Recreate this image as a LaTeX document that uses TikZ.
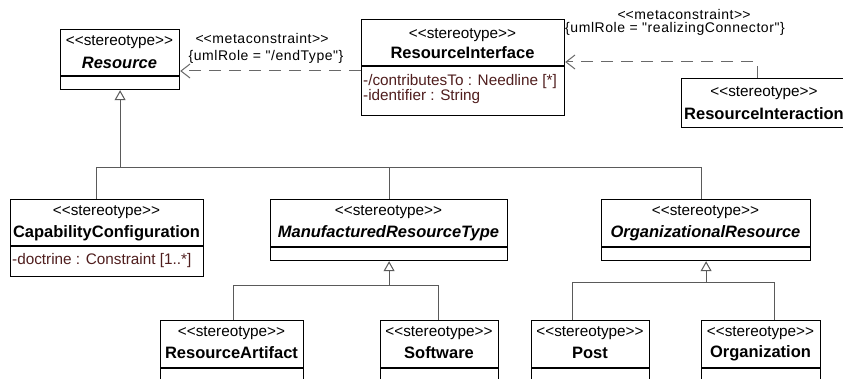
\documentclass[tikz,border=0pt]{standalone}
\usepackage{fontspec}
\setmainfont{Liberation Sans}
\newfontfamily\labfont{Liberation Sans}[LetterSpace=4]
\usetikzlibrary{arrows.meta}
\definecolor{attrcol}{RGB}{80,30,30}
\definecolor{gencol}{RGB}{90,90,90}
\definecolor{depcol}{RGB}{105,105,105}
\newcommand{\dlt}{<\kern0pt<}
\newcommand{\dgt}{>\kern0pt>}
\newcommand{\sterotxt}{\dlt stereotype\dgt}
\begin{document}
\begin{tikzpicture}[x=1pt,y=-1pt,
  box/.style={draw=black, line width=1.2pt, fill=white, anchor=north west, inner sep=0pt},
  divider/.style={draw=black, line width=1.2pt},
  stereo/.style={font=\fontsize{15.3}{16}\selectfont, inner sep=0pt},
  cname/.style={font=\fontsize{16.5}{17}\selectfont\bfseries, inner sep=0pt},
  aname/.style={font=\fontsize{16.5}{17}\selectfont\bfseries\itshape, inner sep=0pt},
  attr/.style={font=\fontsize{15.3}{16}\selectfont, text=attrcol, anchor=west, inner sep=0pt},
  lab/.style={font=\labfont\fontsize{14}{15}\selectfont, inner sep=0pt},
  gen/.style={draw=gencol, line width=1pt},
  genarrow/.style={gen, -{Triangle[open, length=10pt, width=11pt, fill=white]}},
  dep/.style={draw=depcol, line width=1pt, dash pattern=on 12pt off 8pt, -{Straight Barb[length=9pt, width=14pt]}},
]
\clip (0,0) rectangle (843,379);

% ---- boxes
\node[box, minimum width=119pt, minimum height=60pt] (res) at (60,29) {};
\node[box, minimum width=203pt, minimum height=96pt] (ri) at (361,19) {};
\node[box, minimum width=166pt, minimum height=49pt] (rint) at (681,78) {};
\node[box, minimum width=193pt, minimum height=77pt] (cc) at (10,199) {};
\node[box, minimum width=237pt, minimum height=61pt] (mrt) at (270,199) {};
\node[box, minimum width=209pt, minimum height=61pt] (org) at (601,199) {};
\node[box, minimum width=143pt, minimum height=80pt] (ra) at (160,320) {};
\node[box, minimum width=118pt, minimum height=80pt] (sw) at (380,320) {};
\node[box, minimum width=118pt, minimum height=80pt] (post) at (531,320) {};
\node[box, minimum width=119pt, minimum height=80pt] (orgn) at (701,320) {};

% ---- compartment dividers
\draw[divider] (res.west |- 0,76) -- (res.east |- 0,76);
\draw[divider] (ri.west |- 0,66) -- (ri.east |- 0,66);
\draw[divider] (cc.west |- 0,246) -- (cc.east |- 0,246);
\draw[divider] (mrt.west |- 0,247) -- (mrt.east |- 0,247);
\draw[divider] (org.west |- 0,247) -- (org.east |- 0,247);
\draw[divider] (ra.west |- 0,368) -- (ra.east |- 0,368);
\draw[divider] (sw.west |- 0,368) -- (sw.east |- 0,368);
\draw[divider] (post.west |- 0,368) -- (post.east |- 0,368);
\draw[divider] (orgn.west |- 0,368) -- (orgn.east |- 0,368);

% ---- texts
\node[stereo] (resS) at (119.5,42) {\sterotxt};
\node[aname] (resN) at (119.5,63) {Resource};

\node[stereo] (riS) at (462.5,35) {\sterotxt};
\node[cname] (riN) at (462.5,53) {ResourceInterface};
\node[attr] (riA1) at (363,82) {-/contributesTo : Needline [*]};
\node[attr] (riA2) at (363,97) {-identifier : String};

\node[stereo] (rintS) at (764,93) {\sterotxt};
\node[cname] (rintN) at (764,114) {ResourceInteraction};

\node[stereo] (ccS) at (106.5,212) {\sterotxt};
\node[cname] (ccN) at (106.5,233) {CapabilityConfiguration};
\node[attr] (ccA1) at (12,261) {-doctrine : Constraint [1..*]};

\node[stereo] (mrtS) at (388.5,212) {\sterotxt};
\node[aname] (mrtN) at (388.5,233) {ManufacturedResourceType};

\node[stereo] (orgS) at (705.5,212) {\sterotxt};
\node[aname] (orgN) at (705.5,233) {OrganizationalResource};

\node[stereo] (raS) at (231.5,333) {\sterotxt};
\node[cname] (raN) at (231.5,353) {ResourceArtifact};
\node[stereo] (swS) at (439,333) {\sterotxt};
\node[cname] (swN) at (439,353) {Software};
\node[stereo] (postS) at (590,333) {\sterotxt};
\node[cname] (postN) at (590,353) {Post};
\node[stereo] (orgnS) at (760.5,333) {\sterotxt};
\node[cname] (orgnN) at (760.5,353) {Organization};

% ---- generalizations
\coordinate (busL) at (96,168);
\coordinate (busR) at (701,168);
\draw[gen] (cc.north -| busL) -- (busL) -- (busR) -- (org.north -| busR);
\draw[gen] (mrt.north) -- (mrt.north |- busL);
\draw[genarrow] (res.south |- busL) -- (res.south);

\coordinate (blL) at (233,286);
\coordinate (blR) at (438,286);
\draw[gen] (ra.north -| blL) -- (blL) -- (blR) -- (sw.north -| blR);
\draw[genarrow] (mrt.south |- blL) -- (mrt.south);

\coordinate (brL) at (572,283);
\coordinate (brR) at (774,283);
\draw[gen] (post.north -| brL) -- (brL) -- (brR) -- (orgn.north -| brR);
\draw[genarrow] (org.south |- brL) -- (org.south);

% ---- dependencies (metaconstraints)
\coordinate (d1) at (0,71);
\draw[dep] (ri.west |- d1) -- (res.east |- d1);
\coordinate (d2) at (757,62);
\draw[dep] (rint.north -| d2) -- (d2) -- (ri.east |- d2);

\node[lab] (m1a) at (262,38) {\dlt metaconstraint\dgt};
\node[lab] (m1b) at (266,57) {\{umlRole = "/endType"\}};
\node[lab] (m2a) at (684,15) {\dlt metaconstraint\dgt};
\node[lab, anchor=west] (m2b) at (565,29) {\{umlRole = "realizingConnector"\}};
\end{tikzpicture}
\end{document}
